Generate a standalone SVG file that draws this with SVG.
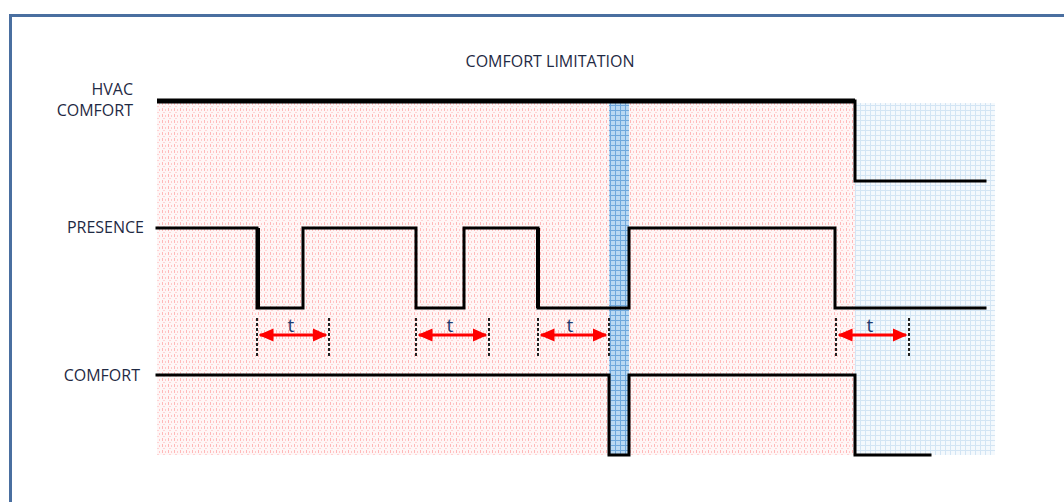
<svg xmlns="http://www.w3.org/2000/svg" width="1064" height="502" viewBox="0 0 1064 502">
<style>
.lbl{font-family:"Open Sans","Liberation Sans",sans-serif;font-size:16px;fill:#1f2a44}
.tl{font-family:"Open Sans","Liberation Sans",sans-serif;font-size:19px;fill:#1f3a6e}
.sig{fill:none;stroke:#000;stroke-width:3;stroke-linejoin:miter;stroke-linecap:square}
.dash{stroke:#222;stroke-width:2;stroke-dasharray:3,2}
.arr{stroke:#ff0000;stroke-width:3}
</style>
<defs>
<pattern id="pr" width="6" height="6" patternUnits="userSpaceOnUse">
<rect width="6" height="6" fill="#fff6f6"/>
<rect x="0" y="0" width="1" height="3" fill="#ffb8b8"/>
<rect x="3" y="1" width="1" height="2" fill="#ffcaca"/>
<rect x="1" y="4" width="2" height="1" fill="#ffd4d4"/>
</pattern>
<pattern id="pb" width="5" height="5" patternUnits="userSpaceOnUse">
<rect width="5" height="5" fill="#f4f9fd"/>
<rect x="0" y="0" width="5" height="1" fill="#d3e5f4"/>
<rect x="0" y="0" width="1" height="5" fill="#d3e5f4"/>
</pattern>
<pattern id="pc" width="5" height="5" patternUnits="userSpaceOnUse">
<rect width="5" height="5" fill="#b9d8f2"/>
<rect x="0" y="0" width="5" height="1" fill="#6fa8dc"/>
<rect x="0" y="0" width="1" height="5" fill="#6fa8dc"/>
</pattern>
<marker id="ah" markerWidth="5" markerHeight="4.4" refX="4.5" refY="2.2" orient="auto-start-reverse" markerUnits="strokeWidth">
<path d="M0,0 L5,2.2 L0,4.4 Z" fill="#ff0000"/>
</marker>
</defs>
<rect x="0" y="0" width="1064" height="502" fill="#fff"/>
<path d="M10.5,520 V15.5 H1080" fill="none" stroke="#4a6fa0" stroke-width="3"/>
<g id="background">
<rect x="157" y="103" width="698" height="352" fill="url(#pr)"/>
<rect x="855" y="103" width="140" height="352" fill="url(#pb)"/>
<rect x="609" y="100" width="20" height="355" fill="url(#pc)"/>
</g>
<g id="title"><text class="lbl" x="550" y="67" text-anchor="middle">COMFORT LIMITATION</text></g>
<g id="hvac-label"><text class="lbl" x="133" y="95" text-anchor="end">HVAC</text><text class="lbl" x="133" y="116" text-anchor="end">COMFORT</text></g>
<g id="presence-label"><text class="lbl" x="144" y="233" text-anchor="end">PRESENCE</text></g>
<g id="comfort-label"><text class="lbl" x="140" y="381" text-anchor="end">COMFORT</text></g>
<g id="connectors">
<path d="M157,101 H855" fill="none" stroke="#000" stroke-width="5"/>
<path class="sig" d="M855,101 V181 H985" stroke-width="2.5"/>
<path class="sig" d="M157,228 H257 V308 H303 V228 H416 V308 H464 V228 H538 V308 H629 V228 H835 V308 H985"/>
<path d="M258,228 V308 M538,228 V308" stroke="#000" stroke-width="4"/>
<path class="sig" d="M157,375 H609 V455 H629 V375 H855 V455 H930"/>
<path class="dash" d="M257,318 V356 M329,318 V356 M416,318 V356 M489,318 V356 M538,318 V356 M609,318 V356 M836,318 V356 M909,318 V356"/>
<path class="arr" d="M260,335 H326" marker-start="url(#ah)" marker-end="url(#ah)"/>
<path class="arr" d="M419,335 H486" marker-start="url(#ah)" marker-end="url(#ah)"/>
<path class="arr" d="M541,335 H606" marker-start="url(#ah)" marker-end="url(#ah)"/>
<path class="arr" d="M839,335 H906" marker-start="url(#ah)" marker-end="url(#ah)"/>
</g>
<g id="t-labels">
<text class="tl" x="291" y="332" text-anchor="middle">t</text>
<text class="tl" x="450" y="332" text-anchor="middle">t</text>
<text class="tl" x="570" y="332" text-anchor="middle">t</text>
<text class="tl" x="870" y="332" text-anchor="middle">t</text>
</g>
</svg>
